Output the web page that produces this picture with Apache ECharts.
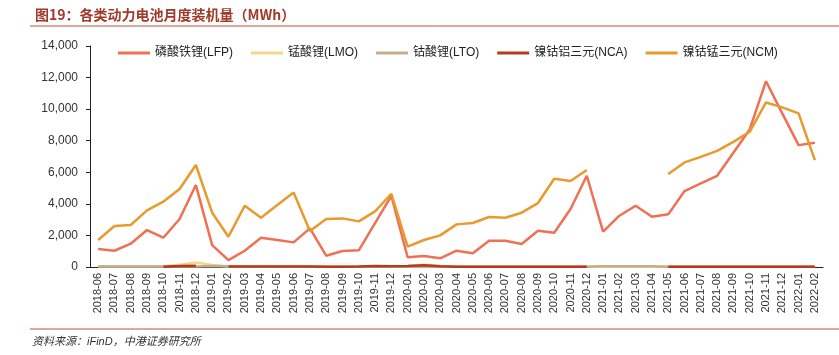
<!DOCTYPE html>
<html><head><meta charset="utf-8">
<script src="https://cdn.jsdelivr.net/npm/echarts@6/dist/echarts.min.js"></script>
<style>html,body{margin:0;padding:0;background:#fff}#c{width:839px;height:355px}</style>
</head><body><div id="c"></div>
<script>
const categories = ['2018-06','2018-07','2018-08','2018-09','2018-10','2018-11','2018-12',
'2019-01','2019-02','2019-03','2019-04','2019-05','2019-06','2019-07','2019-08','2019-09','2019-10','2019-11','2019-12',
'2020-01','2020-02','2020-03','2020-04','2020-05','2020-06','2020-07','2020-08','2020-09','2020-10','2020-11','2020-12',
'2021-01','2021-02','2021-03','2021-04','2021-05','2021-06','2021-07','2021-08','2021-09','2021-10','2021-11','2021-12',
'2022-01','2022-02'];
const lfp = [1140,1030,1475,2340,1855,3040,5190,
1390,440,1030,1855,1710,1560,2450,715,1010,1055,2780,4510,
615,700,550,1030,865,1665,1665,1455,2300,2170,3670,5780,
2235,3250,3880,3185,3335,4810,5300,5780,7240,8715,11770,9730,
7720,7870];
const lmo = [40,40,40,40,50,150,280,
120,30,10,10,10,10,10,10,10,10,20,10,
60,150,60,10,10,10,10,10,10,10,10,10,
10,10,10,10,10,10,10,10,10,10,30,10,
10,10];
const lto = [30,30,30,30,30,30,30,
60,40,20,20,20,20,20,20,20,20,20,20,
20,20,20,20,20,20,20,20,20,20,20,20,
40,40,40,40,20,20,20,20,20,20,20,20,
20,20];
const nca = [null,null,null,null,10,60,80,
null,30,30,30,30,30,30,20,20,30,60,40,
60,110,50,20,20,20,20,20,20,20,20,20,
null,null,null,null,20,20,20,20,20,20,20,20,
20,20];
const ncm = [1710,2595,2660,3590,4135,4940,6460,
3440,1920,3880,3120,3925,4725,2280,3040,3080,2890,3525,4640,
1285,1710,2005,2700,2785,3165,3120,3440,4050,5590,5445,6140,
null,null,null,null,5890,6625,6980,7360,7930,8565,10425,10110,
9730,6775];
const seriesNames = ['磷酸铁锂(LFP)','锰酸锂(LMO)','钴酸锂(LTO)','镍钴铝三元(NCA)','镍钴锰三元(NCM)'];
const colors = ['#EF7052','#F3D78E','#C3AE8B','#B83A1E','#E89A2C'];
const yTicks = [0,2000,4000,6000,8000,10000,12000,14000];

const chart = echarts.init(document.getElementById('c'));
const font = 'Liberation Sans, Arial, Noto Sans CJK SC, sans-serif';
const dataSets = [lfp, lmo, lto, nca, ncm];
chart.setOption({
  animation: false,
  textStyle: {fontFamily: font},
  title: {
    text: '图19：各类动力电池月度装机量（MWh）',
    left: 30, top: 3,
    textStyle: {fontSize: 14, fontWeight: 'bold', color: '#A03A28', fontFamily: 'Noto Sans CJK SC, sans-serif'}
  },
  graphic: [
    {type: 'line', shape: {x1: 30, y1: 26, x2: 839, y2: 26}, style: {stroke: '#B5553C', lineWidth: 1}},
    {type: 'line', shape: {x1: 30, y1: 329, x2: 839, y2: 329}, style: {stroke: '#B5553C', lineWidth: 1}},
    {type: 'text', left: 32, top: 336, style: {text: '资料来源：iFinD，中港证券研究所', fill: '#333', font: 'italic 11px Liberation Sans, Noto Sans CJK SC, sans-serif'}}
  ],
  legend: {
    top: 42, left: 113,
    itemWidth: 32, itemHeight: 3, itemGap: 18,
    icon: 'rect',
    textStyle: {fontSize: 12, color: '#222', fontFamily: font},
    data: seriesNames
  },
  grid: {left: 90, right: 16, top: 46, bottom: 88, containLabel: false},
  xAxis: {
    type: 'category', data: categories, boundaryGap: true,
    axisLine: {lineStyle: {color: '#222', width: 1}},
    axisTick: {inside: true, length: 4, lineStyle: {color: '#222'}, alignWithLabel: false},
    axisLabel: {rotate: 90, interval: 0, fontSize: 11, color: '#333', margin: 6, fontFamily: font}
  },
  yAxis: {
    type: 'value', min: yTicks[0], max: yTicks[yTicks.length - 1], interval: yTicks[1] - yTicks[0],
    axisLine: {show: true, lineStyle: {color: '#222', width: 1}},
    axisTick: {show: true, length: 4, lineStyle: {color: '#222'}},
    splitLine: {show: false},
    axisLabel: {fontSize: 12, color: '#333', margin: 12, fontFamily: font,
      formatter: v => v.toLocaleString('en-US')}
  },
  series: seriesNames.map((n, i) => ({
    name: n, type: 'line', data: dataSets[i],
    symbol: 'none', connectNulls: false,
    lineStyle: {width: 2.5, color: colors[i]},
    itemStyle: {color: colors[i]}
  }))
});
</script></body></html>
